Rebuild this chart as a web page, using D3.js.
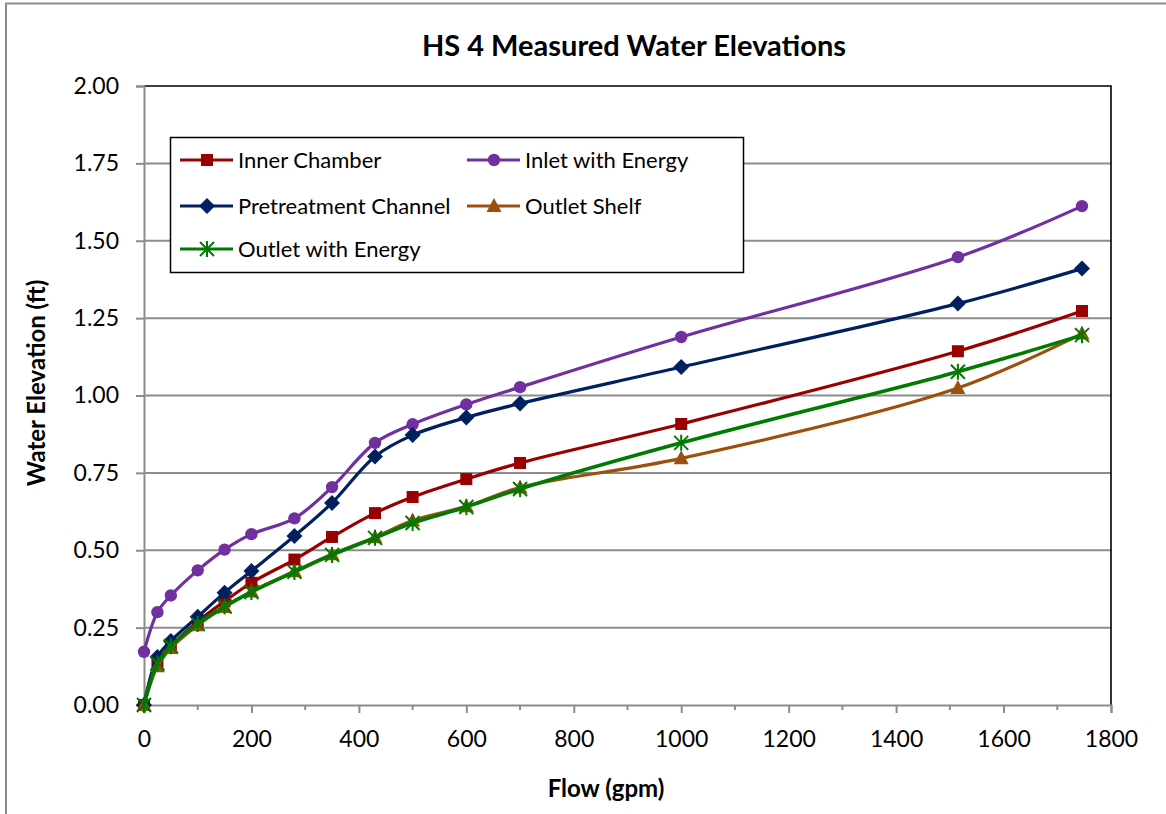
<!DOCTYPE html>
<html>
<head>
<meta charset="utf-8">
<script src="https://cdn.jsdelivr.net/npm/d3@7"></script>
<style>
html,body{margin:0;padding:0;background:#fff;}
svg{display:block;}
text{font-family:Lato, "Open Sans", sans-serif;fill:#000;}
</style>
</head>
<body>
<svg id="chart" width="1166" height="814"></svg>
<script>
// ---- data ----
const flow = [0, 25, 50, 100, 150, 200, 280, 350, 430, 500, 600, 700, 1000, 1515, 1746];
const innerChamber = [0, 0.14, 0.19, 0.27, 0.335, 0.395, 0.47, 0.543, 0.62, 0.672, 0.73, 0.782, 0.908, 1.143, 1.273];
const inletWithEnergy = [0.172, 0.30, 0.354, 0.435, 0.502, 0.552, 0.603, 0.704, 0.847, 0.907, 0.971, 1.027, 1.189, 1.447, 1.612];
const pretreatmentChannel = [0, 0.155, 0.207, 0.285, 0.363, 0.433, 0.546, 0.653, 0.803, 0.872, 0.929, 0.974, 1.092, 1.297, 1.41];
const outletShelf = [0, 0.125, 0.184, 0.258, 0.317, 0.367, 0.432, 0.487, 0.542, 0.596, 0.642, 0.703, 0.797, 1.024, 1.20];
const outletWithEnergy = [0, 0.135, 0.19, 0.262, 0.318, 0.365, 0.430, 0.485, 0.540, 0.588, 0.640, 0.698, 0.847, 1.077, 1.195];
const xTicks = [0, 200, 400, 600, 800, 1000, 1200, 1400, 1600, 1800];
const yTicks = [0, 0.25, 0.5, 0.75, 1.0, 1.25, 1.5, 1.75, 2.0];

const seriesNames = ["Inner Chamber", "Inlet with Energy", "Pretreatment Channel", "Outlet Shelf", "Outlet with Energy"];
const seriesValues = [innerChamber, inletWithEnergy, pretreatmentChannel, outletShelf, outletWithEnergy];
const seriesColors = ["#990000", "#7030A0", "#002060", "#9C4F0E", "#007A00"];
const seriesMarkers = ["square", "circle", "diamond", "triangle", "star"];

// ---- layout ----
const svg = d3.select("#chart");
const L = 144, R = 1111, T = 86, B = 705;
const x = d3.scaleLinear().domain([0, 1800]).range([L, R]);
const y = d3.scaleLinear().domain([0, 2]).range([B, T]);

// outer chart border
svg.append("rect").attr("x", 6).attr("y", 3.5).attr("width", 1300).attr("height", 1000)
  .attr("fill", "none").attr("stroke", "#8c8c8c").attr("stroke-width", 2);

// title
svg.append("text").attr("x", 634).attr("y", 56).attr("text-anchor", "middle")
  .attr("font-size", 29).attr("font-weight", "bold").text("HS 4 Measured Water Elevations");

// gridlines
svg.append("g").selectAll("line").data(yTicks.filter(d => d > 0 && d < 2)).join("line")
  .attr("x1", L).attr("x2", R).attr("y1", d => y(d)).attr("y2", d => y(d))
  .attr("stroke", "#8c8c8c").attr("stroke-width", 2);

// plot border top/right
svg.append("path").attr("d", `M${L},${T}H${R}V${B}`).attr("fill", "none")
  .attr("stroke", "#000").attr("stroke-width", 1.6);

// y axis
const yAxis = d3.axisLeft(y).tickValues(yTicks).tickFormat(d3.format(".2f")).tickSize(8).tickPadding(17);
const gy = svg.append("g").attr("transform", `translate(${L},0)`).call(yAxis);
gy.select(".domain").attr("stroke", "#8c8c8c").attr("stroke-width", 2);
gy.selectAll(".tick line").attr("stroke", "#8c8c8c").attr("stroke-width", 2);
gy.selectAll(".tick text").attr("font-size", 23).attr("font-family", "Lato, sans-serif").attr("fill", "#000");

// x axis: minor ticks
svg.append("g").selectAll("line").data(d3.range(100, 1800, 200)).join("line")
  .attr("x1", d => x(d)).attr("x2", d => x(d)).attr("y1", B).attr("y2", B + 5)
  .attr("stroke", "#8c8c8c").attr("stroke-width", 2);
const xAxis = d3.axisBottom(x).tickValues(xTicks).tickFormat(d3.format("d")).tickSize(8).tickPadding(18);
const gx = svg.append("g").attr("transform", `translate(0,${B})`).call(xAxis);
gx.select(".domain").attr("stroke", "#8c8c8c").attr("stroke-width", 2);
gx.selectAll(".tick line").attr("stroke", "#8c8c8c").attr("stroke-width", 2);
gx.selectAll(".tick text").attr("font-size", 23).attr("font-family", "Lato, sans-serif").attr("fill", "#000");

// axis titles
svg.append("text").attr("x", 606).attr("y", 797).attr("text-anchor", "middle")
  .attr("font-size", 24).attr("font-weight", "bold").text("Flow (gpm)");
svg.append("text").attr("transform", "translate(45,383) rotate(-90)").attr("text-anchor", "middle")
  .attr("font-size", 24).attr("font-weight", "bold").text("Water Elevation (ft)");

// markers
function drawMarker(g, type, color, cx, cy) {
  if (type === "square") {
    g.append("rect").attr("x", cx - 6).attr("y", cy - 6).attr("width", 12).attr("height", 12).attr("fill", color);
  } else if (type === "circle") {
    g.append("circle").attr("cx", cx).attr("cy", cy).attr("r", 6.2).attr("fill", color);
  } else if (type === "diamond") {
    g.append("path").attr("d", `M${cx},${cy - 8}L${cx + 8},${cy}L${cx},${cy + 8}L${cx - 8},${cy}Z`).attr("fill", color);
  } else if (type === "triangle") {
    g.append("path").attr("d", `M${cx},${cy - 8}L${cx + 7.5},${cy + 6}L${cx - 7.5},${cy + 6}Z`).attr("fill", color);
  } else if (type === "star") {
    const s = 7;
    g.append("path").attr("d",
      `M${cx - s},${cy - s}L${cx + s},${cy + s}M${cx - s},${cy + s}L${cx + s},${cy - s}M${cx},${cy - s - 1}V${cy + s + 1}`)
      .attr("stroke", color).attr("stroke-width", 2).attr("fill", "none");
  }
}

const line = d3.line().x(d => x(d[0])).y(d => y(d[1])).curve(d3.curveCatmullRom.alpha(0.5));

seriesValues.forEach((vals, i) => {
  const pts = flow.map((f, k) => [f, vals[k]]);
  const g = svg.append("g");
  g.append("path").attr("d", line(pts)).attr("fill", "none")
    .attr("stroke", seriesColors[i]).attr("stroke-width", i === 4 ? 3.6 : 3.2).attr("stroke-linejoin", "round");
  pts.forEach(p => drawMarker(g, seriesMarkers[i], seriesColors[i], x(p[0]), y(p[1])));
});

// legend
const lg = svg.append("g");
lg.append("rect").attr("x", 170.5).attr("y", 137.5).attr("width", 573).attr("height", 135)
  .attr("fill", "#fff").attr("stroke", "#000").attr("stroke-width", 1.5);
const legendPos = [[180, 160], [467, 160], [180, 206], [467, 206], [180, 249]];
seriesNames.forEach((name, i) => {
  const [lx, ly] = legendPos[i];
  lg.append("line").attr("x1", lx).attr("x2", lx + 53).attr("y1", ly).attr("y2", ly)
    .attr("stroke", seriesColors[i]).attr("stroke-width", 3.2);
  drawMarker(lg, seriesMarkers[i], seriesColors[i], lx + 27, ly);
  lg.append("text").attr("x", lx + 58).attr("y", ly + 8).attr("font-size", 22).text(name);
});
</script>
</body>
</html>
